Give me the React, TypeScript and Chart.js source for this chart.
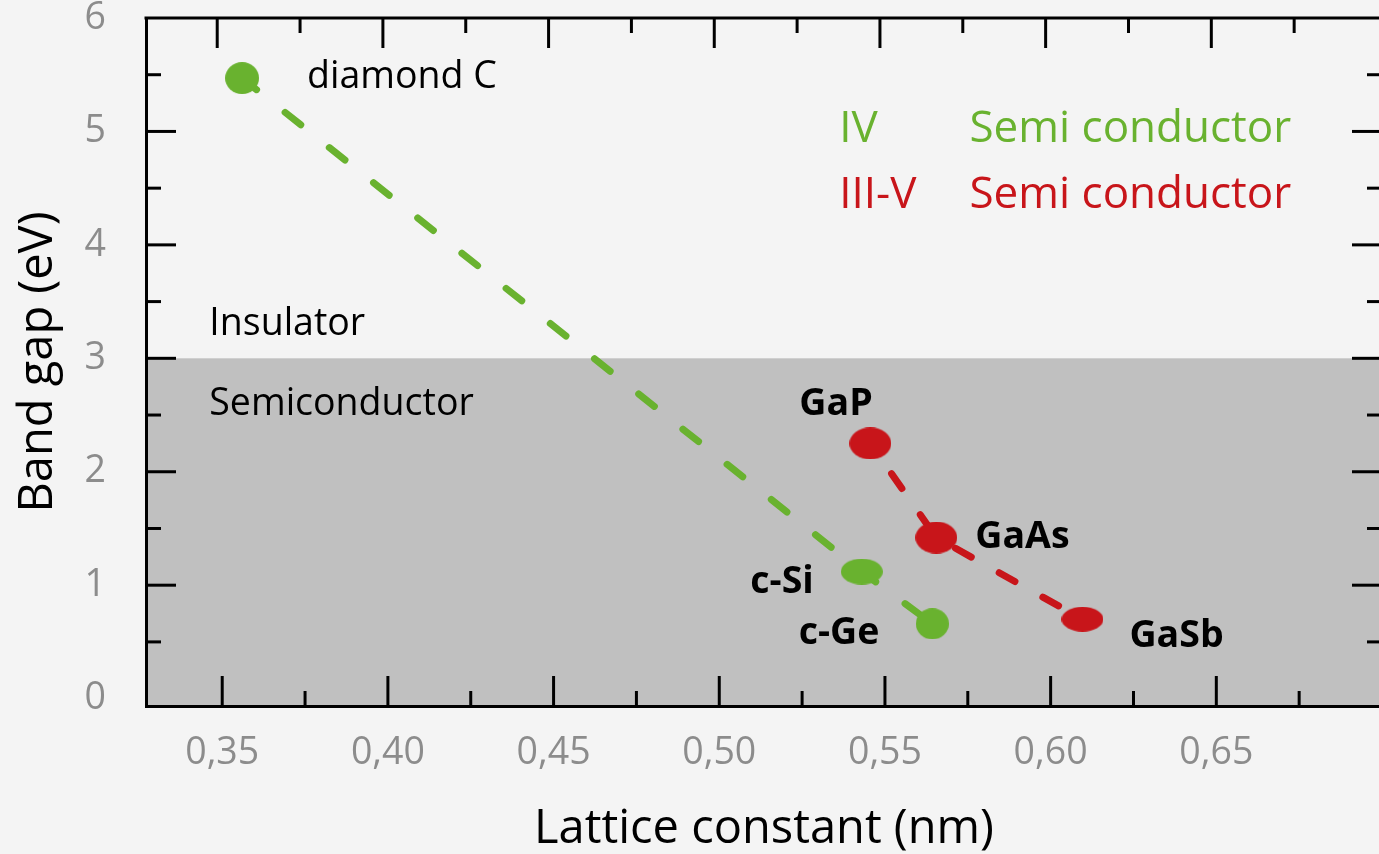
import React, { useEffect, useRef } from 'react';
import { Chart, registerables } from 'chart.js';

Chart.register(...registerables);

// ---------- data ----------
const ivNames = ['diamond C', 'c-Si', 'c-Ge'];
const ivLattice = [0.356, 0.543, 0.5643];
const ivGap = [5.47, 1.12, 0.66];

const iiivNames = ['GaP', 'GaAs', 'GaSb'];
const iiivLattice = [0.5456, 0.5655, 0.6096];
const iiivGap = [2.25, 1.42, 0.7];

const xTickValues = [0.35, 0.4, 0.45, 0.5, 0.55, 0.6, 0.65];
const xTickLabels = ['0,35', '0,40', '0,45', '0,50', '0,55', '0,60', '0,65'];
const xMinorValues = [0.375, 0.425, 0.475, 0.525, 0.575, 0.625, 0.675];
const yTickValues = [0, 1, 2, 3, 4, 5, 6];
const yTickLabels = ['0', '1', '2', '3', '4', '5', '6'];
const yMinorValues = [0.5, 1.5, 2.5, 3.5, 4.5, 5.5];

const insulatorLimit = 3;
const xTitle = 'Lattice constant (nm)';
const yTitle = 'Band gap (eV)';
const legendRows = [
  { group: 'IV', text: 'Semi conductor' },
  { group: 'III-V', text: 'Semi conductor' },
];
const regionLabels = ['Insulator', 'Semiconductor'];

// ---------- styles ----------
const GREEN = '#69b22f';
const RED = '#c8151a';
const FONT = "'Open Sans', sans-serif";
const ivMarkerSize = [
  [34, 32],
  [42, 26],
  [33, 31],
];
const iiivMarkerSize = [
  [42, 32],
  [42, 32],
  [42, 25],
];
// label offsets in px relative to point: dx, dy (baseline), align
const ivLabelStyle = [
  { dx: 65, dy: 10, align: 'left', bold: false },
  { dx: -48, dy: 21, align: 'right', bold: true },
  { dx: -53, dy: 20, align: 'right', bold: true },
];
const iiivLabelStyle = [
  { dx: -71, dy: -28, align: 'left', bold: true },
  { dx: 39, dy: 10, align: 'left', bold: true },
  { dx: 47, dy: 28, align: 'left', bold: true },
];

function ellipseCanvas(w: number, h: number, color: string) {
  const c = document.createElement('canvas');
  c.width = w;
  c.height = h;
  const g = c.getContext('2d')!;
  g.fillStyle = color;
  g.beginPath();
  g.ellipse(w / 2, h / 2, w / 2, h / 2, 0, 0, Math.PI * 2);
  g.fill();
  return c;
}

function zeroPad(s: any) {
  s.paddingTop = 0;
  s.paddingBottom = 0;
  s.paddingLeft = 0;
  s.paddingRight = 0;
}

export default function App() {
  const ref = useRef<HTMLCanvasElement | null>(null);

  useEffect(() => {
    if (!ref.current) return;

    const decor = {
      id: 'decor',
      beforeDraw(chart: any) {
        const { ctx, chartArea: a, scales } = chart;
        const yt = scales.y.getPixelForValue(insulatorLimit);
        ctx.save();
        ctx.fillStyle = '#c0c0c0';
        ctx.fillRect(a.left, yt, a.right - a.left, a.bottom - yt);
        ctx.restore();
      },
      beforeDatasetsDraw(chart: any) {
        const { ctx, chartArea: a, scales } = chart;
        const x = scales.x;
        const y = scales.y;
        ctx.save();
        ctx.strokeStyle = '#000';
        ctx.lineWidth = 3;
        ctx.lineCap = 'butt';
        const line = (x1: number, y1: number, x2: number, y2: number) => {
          ctx.beginPath();
          ctx.moveTo(x1, y1);
          ctx.lineTo(x2, y2);
          ctx.stroke();
        };
        const xt = (vals: number[], len: number) => {
          vals.forEach((v) => {
            const p = x.getPixelForValue(v);
            if (p < a.left + 5 || p > a.right - 5) return;
            line(p, a.bottom, p, a.bottom - len);
            line(p - 5, a.top, p - 5, a.top + len);
          });
        };
        const yt = (vals: number[], len: number) => {
          vals.forEach((v) => {
            const p = y.getPixelForValue(v);
            if (p < a.top + 5 || p > a.bottom - 10) return;
            line(a.left, p, a.left + len, p);
            line(a.right, p, a.right - len, p);
          });
        };
        xt(xTickValues, 30);
        xt(xMinorValues, 15);
        yt(yTickValues, 30);
        yt(yMinorValues, 15);
        // top and right frame
        line(a.left - 1.5, a.top, a.right + 1.5, a.top);
        line(a.right, a.top, a.right, a.bottom);
        ctx.restore();
      },
      afterDatasetsDraw(chart: any) {
        const { ctx, scales } = chart;
        const x = scales.x;
        const y = scales.y;
        ctx.save();
        ctx.textBaseline = 'alphabetic';
        const put = (names: string[], xs: number[], ys: number[], st: any[]) => {
          names.forEach((n, i) => {
            const px = x.getPixelForValue(xs[i]);
            const py = y.getPixelForValue(ys[i]);
            ctx.font = `${st[i].bold ? 'bold ' : ''}37.5px ${FONT}`;
            ctx.fillStyle = '#000';
            ctx.textAlign = st[i].align;
            ctx.fillText(n, px + st[i].dx, py + st[i].dy);
          });
        };
        put(ivNames, ivLattice, ivGap, ivLabelStyle);
        put(iiivNames, iiivLattice, iiivGap, iiivLabelStyle);

        // region labels
        ctx.textAlign = 'left';
        ctx.font = `37.5px ${FONT}`;
        ctx.fillStyle = '#000';
        ctx.fillText(regionLabels[0], x.getPixelForValue(0.3461), y.getPixelForValue(3.207));
        ctx.fillText(regionLabels[1], x.getPixelForValue(0.3461), y.getPixelForValue(2.502));

        // legend
        ctx.font = `44px ${FONT}`;
        const colors = [GREEN, RED];
        const legY = [4.91, 4.327];
        legendRows.forEach((r, i) => {
          ctx.fillStyle = colors[i];
          const py = y.getPixelForValue(legY[i]);
          ctx.fillText(r.group, x.getPixelForValue(0.5362), py);
          ctx.fillText(r.text, x.getPixelForValue(0.5755), py);
        });
        ctx.restore();
      },
    };

    const chart = new Chart(ref.current, {
      type: 'scatter',
      data: {
        datasets: [
          {
            label: 'IV',
            data: ivLattice.map((v, i) => ({ x: v, y: ivGap[i] })),
            showLine: true,
            borderColor: GREEN,
            backgroundColor: GREEN,
            borderWidth: 7,
            borderDash: [20, 36.5],
            borderDashOffset: 1.5,
            borderCapStyle: 'round',
            pointStyle: ivMarkerSize.map(([w, h]) => ellipseCanvas(w, h, GREEN)),
            pointRadius: 16,
          } as any,
          {
            label: 'III-V',
            data: iiivLattice.map((v, i) => ({ x: v, y: iiivGap[i] })),
            showLine: true,
            borderColor: RED,
            backgroundColor: RED,
            borderWidth: 7,
            borderDash: [18, 32],
            borderDashOffset: 13,
            borderCapStyle: 'round',
            pointStyle: iiivMarkerSize.map(([w, h]) => ellipseCanvas(w, h, RED)),
            pointRadius: 16,
          } as any,
        ],
      },
      options: {
        responsive: false,
        animation: false,
        layout: { autoPadding: false, padding: { top: 18, right: 2, left: 0, bottom: 0 } },
        plugins: { legend: { display: false }, tooltip: { enabled: false } },
        scales: {
          x: {
            type: 'linear',
            min: 0.327,
            max: 0.7,
            afterBuildTicks: (s: any) => {
              s.ticks = xTickValues.map((v) => ({ value: v }));
            },
            afterFit: (s: any) => {
              s.height = 154;
              zeroPad(s);
            },
            grid: { drawOnChartArea: false, drawTicks: false },
            border: { display: true, color: '#000', width: 3 },
            ticks: {
              color: '#8c8c8c',
              font: { family: FONT, size: 37.5 },
              padding: 25,
              autoSkip: false,
              maxRotation: 0,
              callback: (_v: any, i: number) => xTickLabels[i],
            },
            title: {
              display: true,
              text: xTitle,
              color: '#000',
              font: { family: FONT, size: 47 },
              padding: { top: 0, bottom: 2 },
            },
          },
          y: {
            type: 'linear',
            min: -0.065,
            max: 6,
            afterBuildTicks: (s: any) => {
              s.ticks = yTickValues.map((v) => ({ value: v }));
            },
            afterFit: (s: any) => {
              s.width = 146;
              zeroPad(s);
            },
            grid: { drawOnChartArea: false, drawTicks: false },
            border: { display: true, color: '#000', width: 3 },
            ticks: {
              color: '#8c8c8c',
              font: { family: FONT, size: 37.5 },
              padding: 40,
              autoSkip: false,
              callback: (_v: any, i: number) => yTickLabels[i],
            },
            title: {
              display: true,
              text: yTitle,
              color: '#000',
              font: { family: FONT, size: 47 },
              padding: { top: 10, bottom: 0 },
            },
          },
        },
      },
      plugins: [decor],
    } as any);

    return () => chart.destroy();
  }, []);

  return (
    <div
      style={{
        position: 'fixed',
        left: 0,
        top: 0,
        width: 1379,
        height: 854,
        overflow: 'hidden',
        background: '#f4f4f4',
      }}
    >
      <canvas ref={ref} width={1384} height={860} style={{ display: 'block', width: 1384, height: 860 }} />
    </div>
  );
}
